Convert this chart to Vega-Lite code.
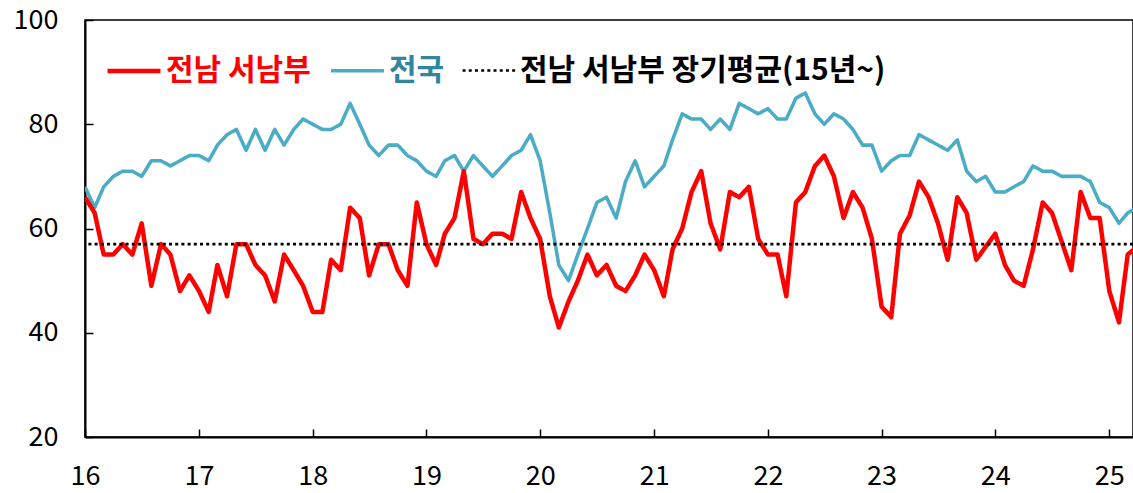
{
  "$schema": "https://vega.github.io/schema/vega-lite/v6.json",
  "width": 1048,
  "height": 417,
  "autosize": "none",
  "padding": {"left": 85, "top": 20, "right": 0, "bottom": 56},
  "background": "white",
  "config": {"view": {"stroke": "#000", "strokeWidth": 1.5}, "font": "Noto Sans CJK KR"},
  "layer": [
    {
      "data": {"values": [
        {"m":"2016-01-01","전남 서남부":66,"전국":68},{"m":"2016-02-01","전남 서남부":63,"전국":64},{"m":"2016-03-01","전남 서남부":55,"전국":68},{"m":"2016-04-01","전남 서남부":55,"전국":70},{"m":"2016-05-01","전남 서남부":57,"전국":71},{"m":"2016-06-01","전남 서남부":55,"전국":71},{"m":"2016-07-01","전남 서남부":61,"전국":70},{"m":"2016-08-01","전남 서남부":49,"전국":73},{"m":"2016-09-01","전남 서남부":57,"전국":73},{"m":"2016-10-01","전남 서남부":55,"전국":72},{"m":"2016-11-01","전남 서남부":48,"전국":73},{"m":"2016-12-01","전남 서남부":51,"전국":74},
        {"m":"2017-01-01","전남 서남부":48,"전국":74},{"m":"2017-02-01","전남 서남부":44,"전국":73},{"m":"2017-03-01","전남 서남부":53,"전국":76},{"m":"2017-04-01","전남 서남부":47,"전국":78},{"m":"2017-05-01","전남 서남부":57,"전국":79},{"m":"2017-06-01","전남 서남부":57,"전국":75},{"m":"2017-07-01","전남 서남부":53,"전국":79},{"m":"2017-08-01","전남 서남부":51,"전국":75},{"m":"2017-09-01","전남 서남부":46,"전국":79},{"m":"2017-10-01","전남 서남부":55,"전국":76},{"m":"2017-11-01","전남 서남부":52,"전국":79},{"m":"2017-12-01","전남 서남부":49,"전국":81},
        {"m":"2018-01-01","전남 서남부":44,"전국":80},{"m":"2018-02-01","전남 서남부":44,"전국":79},{"m":"2018-03-01","전남 서남부":54,"전국":79},{"m":"2018-04-01","전남 서남부":52,"전국":80},{"m":"2018-05-01","전남 서남부":64,"전국":84},{"m":"2018-06-01","전남 서남부":62,"전국":80},{"m":"2018-07-01","전남 서남부":51,"전국":76},{"m":"2018-08-01","전남 서남부":57,"전국":74},{"m":"2018-09-01","전남 서남부":57,"전국":76},{"m":"2018-10-01","전남 서남부":52,"전국":76},{"m":"2018-11-01","전남 서남부":49,"전국":74},{"m":"2018-12-01","전남 서남부":65,"전국":73},
        {"m":"2019-01-01","전남 서남부":57,"전국":71},{"m":"2019-02-01","전남 서남부":53,"전국":70},{"m":"2019-03-01","전남 서남부":59,"전국":73},{"m":"2019-04-01","전남 서남부":62,"전국":74},{"m":"2019-05-01","전남 서남부":71,"전국":71},{"m":"2019-06-01","전남 서남부":58,"전국":74},{"m":"2019-07-01","전남 서남부":57,"전국":72},{"m":"2019-08-01","전남 서남부":59,"전국":70},{"m":"2019-09-01","전남 서남부":59,"전국":72},{"m":"2019-10-01","전남 서남부":58,"전국":74},{"m":"2019-11-01","전남 서남부":67,"전국":75},{"m":"2019-12-01","전남 서남부":62,"전국":78},
        {"m":"2020-01-01","전남 서남부":58,"전국":73},{"m":"2020-02-01","전남 서남부":47,"전국":63},{"m":"2020-03-01","전남 서남부":41,"전국":53},{"m":"2020-04-01","전남 서남부":46,"전국":50},{"m":"2020-05-01","전남 서남부":50,"전국":55},{"m":"2020-06-01","전남 서남부":55,"전국":60},{"m":"2020-07-01","전남 서남부":51,"전국":65},{"m":"2020-08-01","전남 서남부":53,"전국":66},{"m":"2020-09-01","전남 서남부":49,"전국":62},{"m":"2020-10-01","전남 서남부":48,"전국":69},{"m":"2020-11-01","전남 서남부":51,"전국":73},{"m":"2020-12-01","전남 서남부":55,"전국":68},
        {"m":"2021-01-01","전남 서남부":52,"전국":70},{"m":"2021-02-01","전남 서남부":47,"전국":72},{"m":"2021-03-01","전남 서남부":56,"전국":77},{"m":"2021-04-01","전남 서남부":60,"전국":82},{"m":"2021-05-01","전남 서남부":67,"전국":81},{"m":"2021-06-01","전남 서남부":71,"전국":81},{"m":"2021-07-01","전남 서남부":61,"전국":79},{"m":"2021-08-01","전남 서남부":56,"전국":81},{"m":"2021-09-01","전남 서남부":67,"전국":79},{"m":"2021-10-01","전남 서남부":66,"전국":84},{"m":"2021-11-01","전남 서남부":68,"전국":83},{"m":"2021-12-01","전남 서남부":58,"전국":82},
        {"m":"2022-01-01","전남 서남부":55,"전국":83},{"m":"2022-02-01","전남 서남부":55,"전국":81},{"m":"2022-03-01","전남 서남부":47,"전국":81},{"m":"2022-04-01","전남 서남부":65,"전국":85},{"m":"2022-05-01","전남 서남부":67,"전국":86},{"m":"2022-06-01","전남 서남부":72,"전국":82},{"m":"2022-07-01","전남 서남부":74,"전국":80},{"m":"2022-08-01","전남 서남부":70,"전국":82},{"m":"2022-09-01","전남 서남부":62,"전국":81},{"m":"2022-10-01","전남 서남부":67,"전국":79},{"m":"2022-11-01","전남 서남부":64,"전국":76},{"m":"2022-12-01","전남 서남부":58,"전국":76},
        {"m":"2023-01-01","전남 서남부":45,"전국":71},{"m":"2023-02-01","전남 서남부":43,"전국":73},{"m":"2023-03-01","전남 서남부":59,"전국":74},{"m":"2023-04-01","전남 서남부":62.5,"전국":74},{"m":"2023-05-01","전남 서남부":69,"전국":78},{"m":"2023-06-01","전남 서남부":66,"전국":77},{"m":"2023-07-01","전남 서남부":61,"전국":76},{"m":"2023-08-01","전남 서남부":54,"전국":75},{"m":"2023-09-01","전남 서남부":66,"전국":77},{"m":"2023-10-01","전남 서남부":63,"전국":71},{"m":"2023-11-01","전남 서남부":54,"전국":69},{"m":"2023-12-01","전남 서남부":56.5,"전국":70},
        {"m":"2024-01-01","전남 서남부":59,"전국":67},{"m":"2024-02-01","전남 서남부":53,"전국":67},{"m":"2024-03-01","전남 서남부":50,"전국":68},{"m":"2024-04-01","전남 서남부":49,"전국":69},{"m":"2024-05-01","전남 서남부":56,"전국":72},{"m":"2024-06-01","전남 서남부":65,"전국":71},{"m":"2024-07-01","전남 서남부":63,"전국":71},{"m":"2024-08-01","전남 서남부":57.5,"전국":70},{"m":"2024-09-01","전남 서남부":52,"전국":70},{"m":"2024-10-01","전남 서남부":67,"전국":70},{"m":"2024-11-01","전남 서남부":62,"전국":69},{"m":"2024-12-01","전남 서남부":62,"전국":65},
        {"m":"2025-01-01","전남 서남부":48,"전국":64},{"m":"2025-02-01","전남 서남부":42,"전국":61},{"m":"2025-03-01","전남 서남부":55,"전국":63},{"m":"2025-04-01","전남 서남부":56.5,"전국":64}
      ]},
      "transform": [{"fold": ["전국", "전남 서남부"], "as": ["series", "value"]}],
      "mark": {"type": "line", "clip": true, "strokeJoin": "round"},
      "encoding": {
        "x": {
          "field": "m", "type": "temporal",
          "scale": {"type": "utc", "domain": ["2016-01-01", "2025-03-18"]},
          "axis": {"format": "%y", "tickCount": {"interval": "year", "step": 1}, "grid": false, "title": null,
                   "domainColor": "#000", "domainWidth": 2, "tickColor": "#000", "tickWidth": 1.5, "tickSize": -8,
                   "labelFontSize": 27, "labelColor": "#000", "labelPadding": 34, "labelFlush": false, "labelOverlap": false}
        },
        "y": {
          "field": "value", "type": "quantitative",
          "scale": {"domain": [20, 100], "nice": false},
          "axis": {"values": [20, 40, 60, 80, 100], "grid": false, "title": null,
                   "domainColor": "#000", "domainWidth": 2, "tickColor": "#000", "tickWidth": 1.5, "tickSize": -8,
                   "labelFontSize": 27, "labelColor": "#000", "labelPadding": 35, "labelFlush": false, "labelOverlap": false}
        },
        "color": {
          "field": "series", "type": "nominal",
          "scale": {"domain": ["전남 서남부", "전국", "전남 서남부 장기평균(15년~)"], "range": ["#FF0000", "#4BACC6", "#000000"]},
          "legend": {"orient": "none", "legendX": 20, "legendY": 22, "direction": "horizontal", "title": null,
                     "symbolType": "stroke", "symbolSize": 2800, "labelFontSize": 30, "labelFontWeight": "bold",
                     "labelOffset": 3, "columnPadding": 12, "padding": 0, "labelLimit": 600,
                     "labelColor": {"expr": "datum.label == '전국' ? '#31859C' : datum.label == '전남 서남부' ? '#FF0000' : '#000000'"}}
        },
        "strokeWidth": {
          "field": "series", "type": "nominal",
          "scale": {"domain": ["전남 서남부", "전국", "전남 서남부 장기평균(15년~)"], "range": [4.5, 2.6, 3]}
        },
        "strokeDash": {
          "field": "series", "type": "nominal",
          "scale": {"domain": ["전남 서남부", "전국", "전남 서남부 장기평균(15년~)"], "range": [[1, 0], [1, 0], [3, 3.2]]}
        }
      }
    },
    {
      "data": {"values": [{"series": "전남 서남부 장기평균(15년~)", "value": 57}]},
      "mark": {"type": "rule"},
      "encoding": {
        "y": {"field": "value", "type": "quantitative"},
        "color": {"field": "series", "type": "nominal"},
        "strokeWidth": {"field": "series", "type": "nominal"},
        "strokeDash": {"field": "series", "type": "nominal"}
      }
    }
  ]
}
